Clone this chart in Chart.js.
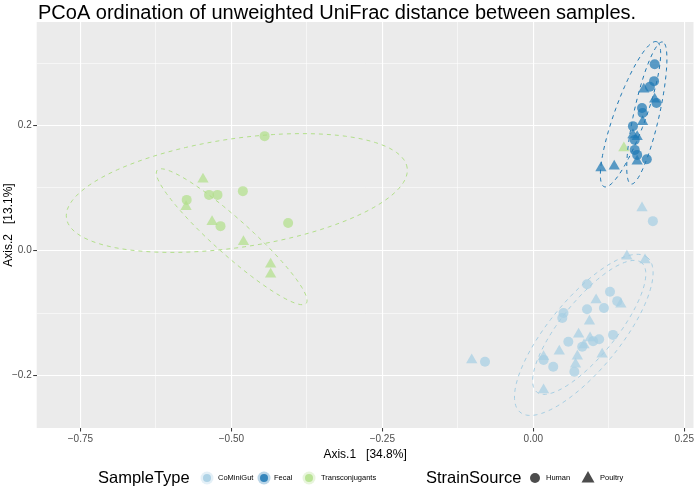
<!DOCTYPE html>
<html>
<head>
<meta charset="utf-8">
<script src="https://cdn.jsdelivr.net/npm/chart.js@4.4.1/dist/chart.umd.min.js"></script>
<style>
  html, body { margin: 0; padding: 0; background: #fff; }
</style>
</head>
<body>
<canvas id="pcoa" width="700" height="490"></canvas>
<script>
// axis ranges and ticks
const xMin = -0.8224, xMax = 0.2653;
const yMin = -0.284, yMax = 0.3656;
const xGridValues = [-0.75, -0.625, -0.5, -0.375, -0.25, -0.125, 0, 0.125, 0.25];
const xTickValues = [-0.75, -0.5, -0.25, 0, 0.25];
const xTickLabels = ['\u22120.75', '\u22120.50', '\u22120.25', '0.00', '0.25'];
const yGridValues = [-0.2, -0.1, 0, 0.1, 0.2, 0.3];
const yTickValues = [-0.2, 0, 0.2];
const yTickLabels = ['\u22120.2', '0.0', '0.2'];

// CoMiniGut
const comHumanX = [0.198, 0.089, 0.127, 0.139, 0.050, 0.048, 0.089, 0.117, 0.132, 0.058, 0.099, 0.109, 0.033, 0.068, -0.080, 0.017, 0.081];
const comHumanY = [0.047, -0.054, -0.066, -0.081, -0.100, -0.108, -0.094, -0.092, -0.135, -0.146, -0.145, -0.142, -0.186, -0.194, -0.178, -0.175, -0.154];
const comPoultryX = [0.180, 0.155, 0.185, 0.104, 0.145, 0.093, 0.075, 0.084, 0.114, 0.017, 0.043, 0.073, 0.070, 0.017, -0.102, 0.094];
const comPoultryY = [0.068, -0.009, -0.015, -0.079, -0.086, -0.113, -0.134, -0.151, -0.166, -0.170, -0.161, -0.169, -0.182, -0.223, -0.175, -0.140];

// Fecal
const fecHumanX = [0.201, 0.200, 0.193, 0.204, 0.180, 0.181, 0.165, 0.168, 0.168, 0.172, 0.188];
const fecHumanY = [0.298, 0.271, 0.262, 0.236, 0.228, 0.220, 0.199, 0.177, 0.161, 0.153, 0.146];
const fecPoultryX = [0.183, 0.201, 0.181, 0.165, 0.172, 0.172, 0.112, 0.134];
const fecPoultryY = [0.258, 0.242, 0.206, 0.185, 0.182, 0.143, 0.132, 0.135];

// Transconjugants
const traHumanX = [-0.445, -0.574, -0.537, -0.523, -0.481, -0.406, -0.518];
const traHumanY = [0.183, 0.081, 0.089, 0.089, 0.095, 0.044, 0.039];
const traPoultryX = [-0.547, -0.575, -0.532, -0.480, -0.435, -0.435, 0.150];
const traPoultryY = [0.114, 0.070, 0.046, 0.014, -0.022, -0.038, 0.164];

// 95% ellipses (centre, semi axes, angle in degrees)
const ellipseType = ['CoMiniGut', 'CoMiniGut', 'Fecal', 'Fecal', 'Transconjugants', 'Transconjugants'];
const ellipseCx = [0.0836, 0.0926, 0.188, 0.161, -0.491, -0.4995];
const ellipseCy = [-0.135, -0.123, 0.220, 0.218, 0.092, 0.022];
const ellipseA = [0.1626, 0.1351, 0.1166, 0.1239, 0.285, 0.163];
const ellipseB = [0.058, 0.045, 0.021, 0.026, 0.087, 0.029];
const ellipseAngle = [49.3, 49.8, 77, 69.4, 8.1, -40.8];

const typeNames = ['CoMiniGut', 'Fecal', 'Transconjugants'];
const typeColors = { CoMiniGut: '166,206,227', Fecal: '31,120,180', Transconjugants: '178,223,138' };

Chart.defaults.font.family = '"Liberation Sans", Arial, sans-serif';

function toPoints(xs, ys) {
  return xs.map((x, i) => ({ x: x, y: ys[i] }));
}

function ellipsePath(i) {
  const pts = [];
  const th = ellipseAngle[i] * Math.PI / 180;
  for (let k = 0; k <= 120; k++) {
    const t = k / 120 * 2 * Math.PI;
    const u = ellipseA[i] * Math.cos(t);
    const v = ellipseB[i] * Math.sin(t);
    pts.push({ x: ellipseCx[i] + u * Math.cos(th) - v * Math.sin(th),
               y: ellipseCy[i] + u * Math.sin(th) + v * Math.cos(th) });
  }
  return pts;
}

function near(v, list) {
  return list.findIndex(w => Math.abs(w - v) < 1e-9);
}

function pointSet(xs, ys, type, style) {
  return {
    type: 'scatter',
    data: toPoints(xs, ys),
    pointStyle: style,
    pointRadius: style === 'triangle' ? 6.5 : 5,
    pointHoverRadius: style === 'triangle' ? 6.5 : 5,
    backgroundColor: `rgba(${typeColors[type]},0.72)`,
    borderWidth: 0
  };
}

const datasets = [];
ellipseType.forEach((type, i) => {
  datasets.push({
    type: 'scatter',
    data: ellipsePath(i),
    showLine: true,
    borderColor: `rgb(${typeColors[type]})`,
    borderWidth: 1,
    borderDash: [4, 4],
    pointRadius: 0,
    fill: false
  });
});
datasets.push(pointSet(fecHumanX, fecHumanY, 'Fecal', 'circle'));
datasets.push(pointSet(fecPoultryX, fecPoultryY, 'Fecal', 'triangle'));
datasets.push(pointSet(traHumanX, traHumanY, 'Transconjugants', 'circle'));
datasets.push(pointSet(traPoultryX, traPoultryY, 'Transconjugants', 'triangle'));
datasets.push(pointSet(comHumanX, comHumanY, 'CoMiniGut', 'circle'));
datasets.push(pointSet(comPoultryX, comPoultryY, 'CoMiniGut', 'triangle'));

const panelPlugin = {
  id: 'panel',
  beforeDraw(chart) {
    const { ctx, chartArea: a } = chart;
    ctx.save();
    ctx.fillStyle = '#fff';
    ctx.fillRect(0, 0, chart.width, chart.height);
    ctx.fillStyle = '#ebebeb';
    ctx.fillRect(a.left, a.top, a.right - a.left, a.bottom - a.top);
    ctx.restore();
  },
  afterDraw(chart) {
    const ctx = chart.ctx;
    const fam = '"Liberation Sans", Arial, sans-serif';
    ctx.save();
    ctx.fillStyle = '#000';
    ctx.font = `20px ${fam}`;
    ctx.textBaseline = 'alphabetic';
    ctx.fillText('PCoA ordination of unweighted UniFrac distance between samples.', 38, 18.5);

    // legend
    const ly = 478;
    ctx.textBaseline = 'middle';
    ctx.font = `16.5px ${fam}`;
    ctx.fillText('SampleType', 98, ly);
    ctx.fillText('StrainSource', 426, ly);

    const keyX = [207, 264, 309];
    const labX = [218, 274, 321];
    typeNames.forEach((t, i) => {
      ctx.fillStyle = `rgba(${typeColors[t]},0.3)`;
      ctx.beginPath(); ctx.arc(keyX[i], ly, 6.5, 0, 2 * Math.PI); ctx.fill();
      ctx.fillStyle = `rgba(${typeColors[t]},0.85)`;
      ctx.beginPath(); ctx.arc(keyX[i], ly, 4, 0, 2 * Math.PI); ctx.fill();
      ctx.fillStyle = '#000';
      ctx.font = `7.5px ${fam}`;
      ctx.fillText(t, labX[i], ly);
    });

    ctx.fillStyle = 'rgba(0,0,0,0.7)';
    ctx.beginPath(); ctx.arc(535, ly, 5, 0, 2 * Math.PI); ctx.fill();
    ctx.beginPath();
    ctx.moveTo(588, ly - 7); ctx.lineTo(594.5, ly + 4.5); ctx.lineTo(581.5, ly + 4.5);
    ctx.closePath(); ctx.fill();
    ctx.fillStyle = '#000';
    ctx.font = `7.5px ${fam}`;
    ctx.fillText('Human', 546, ly);
    ctx.fillText('Poultry', 600, ly);
    ctx.restore();
  }
};

new Chart(document.getElementById('pcoa'), {
  type: 'scatter',
  data: { datasets: datasets },
  plugins: [panelPlugin],
  options: {
    responsive: false,
    animation: false,
    devicePixelRatio: 1,
    layout: { padding: { top: 22, right: 2, bottom: 0, left: 0 } },
    plugins: {
      legend: { display: false },
      tooltip: { enabled: false }
    },
    scales: {
      x: {
        type: 'linear',
        min: xMin,
        max: xMax,
        afterBuildTicks: s => { s.ticks = xGridValues.map(v => ({ value: v })); },
        afterFit: s => { s.height = 62; },
        border: { display: false },
        grid: {
          color: '#fff',
          lineWidth: c => near(c.tick.value, xTickValues) >= 0 ? 1.1 : 0.55,
          tickColor: c => near(c.tick.value, xTickValues) >= 0 ? '#333' : 'rgba(0,0,0,0)',
          tickWidth: 1,
          tickLength: 3.5
        },
        ticks: {
          autoSkip: false,
          maxRotation: 0,
          color: '#4d4d4d',
          font: { size: 10 },
          padding: 2,
          callback: v => { const i = near(v, xTickValues); return i >= 0 ? xTickLabels[i] : ''; }
        },
        title: {
          display: true,
          text: 'Axis.1   [34.8%]',
          color: '#000',
          font: { size: 12 },
          padding: { top: 0, bottom: 27.8 }
        }
      },
      y: {
        type: 'linear',
        min: yMin,
        max: yMax,
        afterBuildTicks: s => { s.ticks = yGridValues.map(v => ({ value: v })); },
        afterFit: s => { s.width = 36.7; },
        border: { display: false },
        grid: {
          color: '#fff',
          lineWidth: c => near(c.tick.value, yTickValues) >= 0 ? 1.1 : 0.55,
          tickColor: c => near(c.tick.value, yTickValues) >= 0 ? '#333' : 'rgba(0,0,0,0)',
          tickWidth: 1,
          tickLength: 3.5
        },
        ticks: {
          autoSkip: false,
          color: '#4d4d4d',
          font: { size: 10 },
          padding: 1.5,
          callback: v => { const i = near(v, yTickValues); return i >= 0 ? yTickLabels[i] : ''; }
        },
        title: {
          display: true,
          text: 'Axis.2   [13.1%]',
          color: '#000',
          font: { size: 12 },
          padding: { top: 1.5, bottom: 0 }
        }
      }
    }
  }
});
</script>
</body>
</html>
